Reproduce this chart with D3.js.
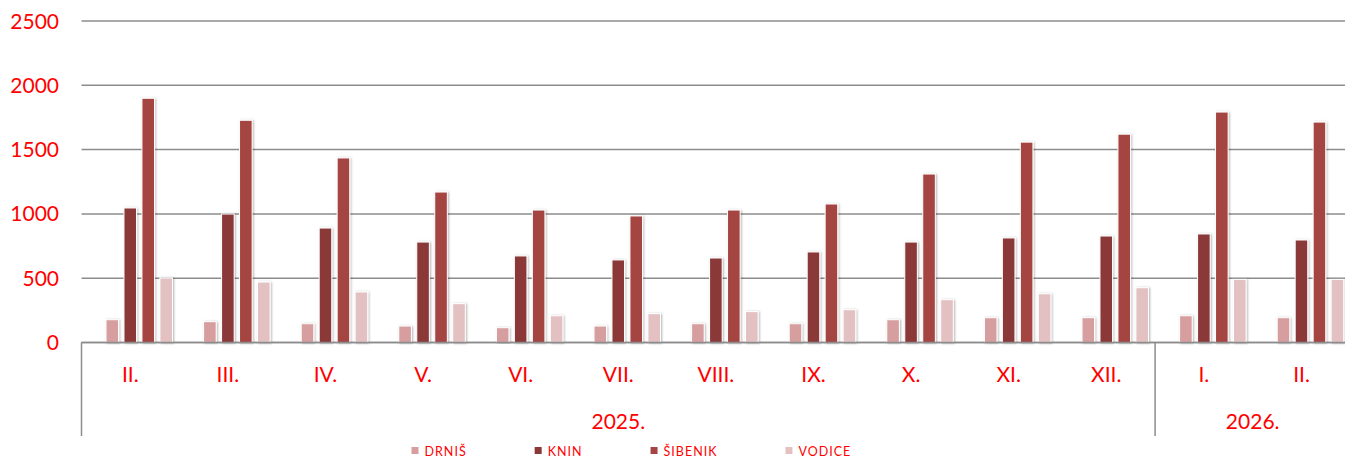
<!DOCTYPE html>
<html>
<head>
<meta charset="utf-8">
<script src="https://cdn.jsdelivr.net/npm/d3@7"></script>
<style>
  html, body { margin: 0; padding: 0; background: #fff; }
  svg { display: block; font-family: Lato, "Open Sans", sans-serif; }
</style>
</head>
<body>
<div class="chart"></div>
<script>
// months shown on the x axis (Feb 2025 .. Feb 2026)
var months = ["II.", "III.", "IV.", "V.", "VI.", "VII.", "VIII.", "IX.", "X.", "XI.", "XII.", "I.", "II."];
var years = ["2025.", "2026."];
var yearStart = [0, 11];   // first month index of each year
var yearCount = [11, 2];

var series = ["DRNIŠ", "KNIN", "ŠIBENIK", "VODICE"];
var colors = ["#d69e9f", "#8b3838", "#a54442", "#e3c0c2"];

var drnis   = [177, 162, 146, 128, 115, 128, 146, 146, 177, 193, 193, 208, 193];
var knin    = [1046, 999, 890, 781, 673, 642, 657, 704, 781, 813, 828, 844, 797];
var sibenik = [1899, 1728, 1435, 1170, 1030, 984, 1030, 1077, 1310, 1558, 1620, 1792, 1714];
var vodice  = [502, 470, 393, 302, 208, 224, 240, 255, 333, 379, 426, 491, 491];

var yTicks = [0, 500, 1000, 1500, 2000, 2500];

var values = [drnis, knin, sibenik, vodice];

var width = 1345, height = 462;
var left = 81.5, band = 97.6;
var right = left + band * months.length;   // runs past the window like the original
var baseY = 342.5, topY = 21;

var svg = d3.select(".chart").append("svg")
    .attr("width", width)
    .attr("height", height);

var defs = svg.append("defs");
var f = defs.append("filter").attr("id", "shadow")
    .attr("x", "-50%").attr("y", "-10%").attr("width", "200%").attr("height", "120%");
f.append("feDropShadow")
    .attr("dx", 1).attr("dy", 0.5)
    .attr("stdDeviation", 1.3)
    .attr("flood-color", "#000")
    .attr("flood-opacity", 0.3);

var x = d3.scaleBand()
    .domain(d3.range(months.length))
    .range([left, right])
    .padding(0);

var xs = d3.scaleBand()
    .domain(d3.range(series.length))
    .range([24.5, 91])
    .paddingInner(0.3);

var y = d3.scaleLinear()
    .domain([0, 2500])
    .range([baseY, topY]);

// grid lines
svg.append("g").selectAll("line")
    .data(yTicks)
    .enter().append("line")
    .attr("x1", left)
    .attr("x2", right)
    .attr("y1", function(d) { return y(d); })
    .attr("y2", function(d) { return y(d); })
    .attr("stroke", "#8c8c8c")
    .attr("stroke-width", 1.5);

// y labels
svg.append("g").selectAll("text")
    .data(yTicks)
    .enter().append("text")
    .attr("x", 59)
    .attr("y", function(d) { return y(d); })
    .attr("dy", "0.36em")
    .attr("text-anchor", "end")
    .attr("fill", "#ff0000")
    .style("font-size", "21px")
    .text(function(d) { return d; });

// bars
var groups = svg.append("g").selectAll("g")
    .data(months)
    .enter().append("g")
    .attr("transform", function(d, i) { return "translate(" + x(i) + ",0)"; });

groups.selectAll("rect")
    .data(function(d, i) { return values.map(function(s, k) { return {k: k, v: s[i]}; }); })
    .enter().append("rect")
    .attr("x", function(d) { return xs(d.k); })
    .attr("width", xs.bandwidth())
    .attr("y", function(d) { return y(d.v); })
    .attr("height", function(d) { return baseY - y(d.v); })
    .attr("fill", function(d) { return colors[d.k]; })
    .attr("stroke", "#fff")
    .attr("stroke-width", 1)
    .attr("filter", "url(#shadow)");

// baseline on top of bars
svg.append("line")
    .attr("x1", left).attr("x2", right)
    .attr("y1", baseY).attr("y2", baseY)
    .attr("stroke", "#8c8c8c")
    .attr("stroke-width", 1.5);

// month labels
svg.append("g").selectAll("text")
    .data(months)
    .enter().append("text")
    .attr("x", function(d, i) { return x(i) + x.bandwidth() / 2; })
    .attr("y", 382)
    .attr("text-anchor", "middle")
    .attr("fill", "#ff0000")
    .style("font-size", "21px")
    .text(function(d) { return d; });

// year separators
var sep = yearStart.concat([months.length]);
svg.append("g").selectAll("line")
    .data(sep)
    .enter().append("line")
    .attr("x1", function(d) { return left + d * band; })
    .attr("x2", function(d) { return left + d * band; })
    .attr("y1", baseY)
    .attr("y2", 436)
    .attr("stroke", "#8c8c8c")
    .attr("stroke-width", 1.5);

// year labels
svg.append("g").selectAll("text")
    .data(years)
    .enter().append("text")
    .attr("x", function(d, i) { return left + (yearStart[i] + yearCount[i] / 2) * band; })
    .attr("y", 429)
    .attr("text-anchor", "middle")
    .attr("fill", "#ff0000")
    .style("font-size", "21px")
    .text(function(d) { return d; });

// legend
var legend = svg.append("g");
var lx = 411.5;
series.forEach(function(s, k) {
    legend.append("rect")
        .attr("x", lx).attr("y", 447)
        .attr("width", 7).attr("height", 7)
        .attr("fill", colors[k]);
    var t = legend.append("text")
        .attr("x", lx + 13).attr("y", 456)
        .attr("fill", "#ff0000")
        .style("font-size", "12.5px")
        .style("letter-spacing", "1px")
        .text(s);
    lx = lx + 13 + t.node().getComputedTextLength() + 68;
});
</script>
</body>
</html>
